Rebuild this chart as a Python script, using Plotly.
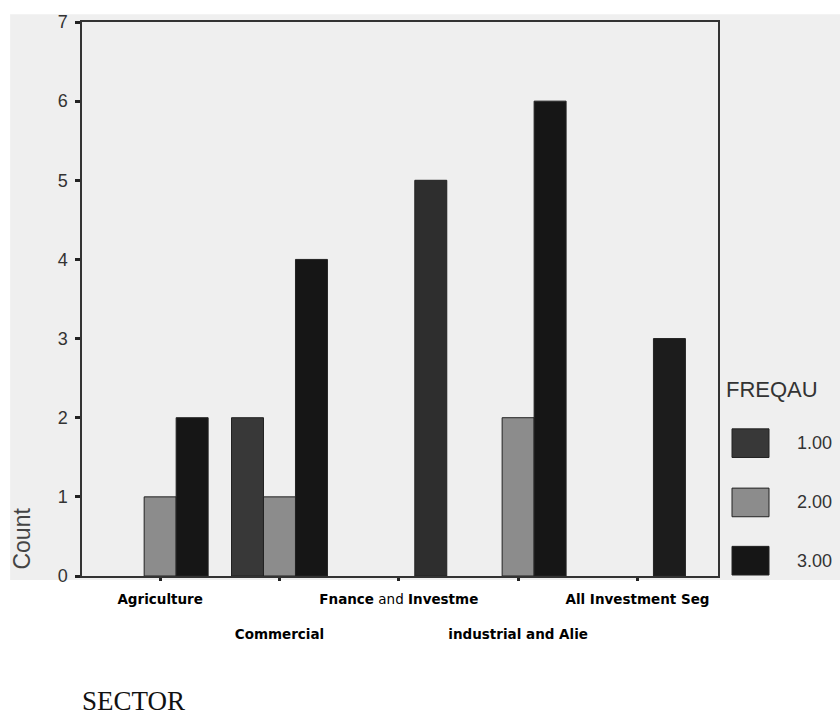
import plotly.graph_objects as go

# Sector categories (tick labels keep the original truncated SPSS text)
sectors = ["Agriculture", "Commercial", "Fnance and Investme",
           "industrial and Alie", "All Investment Seg"]
tick_labels = ["<b>Agriculture</b>",
               "<br><br><b>Commercial</b>",
               "<b>Fnance</b> and <b>Investme</b>",
               "<br><br><b>industrial and Alie</b>",
               "<b>All Investment Seg</b>"]

# Counts per FREQAU level
series_names = ["1.00", "2.00", "3.00"]
count_100 = [0, 2, 0, 0, 0]
count_200 = [1, 1, 0, 2, 0]
count_300 = [2, 4, 5, 6, 3]
y_ticks = [0, 1, 2, 3, 4, 5, 6, 7]

series_colors = ["#383838", "#8c8c8c", "#161616"]
# the finance bar prints a little lighter than the other black bars
bar_colors_300 = ["#161616", "#161616", "#2e2e2e", "#161616", "#1c1c1c"]

BG = "#efefef"
x_idx = list(range(len(sectors)))

fig = go.Figure()
for name, vals, col in zip(series_names,
                           [count_100, count_200, count_300],
                           [series_colors[0], series_colors[1], bar_colors_300]):
    # empty cells are left out so no flat outline is drawn at zero
    shown = [v if v else None for v in vals]
    fig.add_trace(go.Bar(
        x=x_idx, y=shown, name=name,
        marker=dict(color=col, line=dict(color="#222222", width=1)),
        showlegend=False,
    ))

fig.update_layout(
    width=840, height=717,
    margin=dict(l=82, r=122, t=15, b=141),
    paper_bgcolor="white",
    plot_bgcolor=BG,
    barmode="group",
    bargap=0.196,
    bargroupgap=0,
    font=dict(family="Liberation Sans, Arial, sans-serif", color="#333333"),
    xaxis=dict(
        range=[-0.655, 4.675],
        tickmode="array", tickvals=x_idx, ticktext=tick_labels,
        tickangle=0,
        ticks="outside", ticklen=3, tickwidth=3, tickcolor="#222222",
        ticklabelstandoff=7,
        tickfont=dict(size=13.5, color="#000000",
                      family="DejaVu Sans, Arial, sans-serif"),
        showline=True, linecolor="#333333", linewidth=1.5, mirror=True,
        showgrid=False, zeroline=False, fixedrange=True,
    ),
    yaxis=dict(
        range=[0, 7],
        tickmode="array", tickvals=y_ticks,
        ticks="outside", ticklen=5, tickwidth=3, tickcolor="#222222",
        ticklabelstandoff=4,
        tickfont=dict(size=18, color="#333333"),
        showline=True, linecolor="#333333", linewidth=1.5, mirror=True,
        showgrid=False, zeroline=False,
    ),
)

# light scanned page tone behind the chart area
fig.add_shape(type="rect", xref="paper", yref="paper",
              x0=-0.113, x1=1.2, y0=-0.007, y1=1.014,
              fillcolor=BG, line=dict(width=0), layer="below")

# axis titles
fig.add_annotation(text="Count", xref="paper", yref="paper",
                   x=-0.094, y=0.068, textangle=-90, showarrow=False,
                   xanchor="center", yanchor="middle",
                   font=dict(size=23, color="#444444"))
fig.add_annotation(text="SECTOR", xref="paper", yref="paper",
                   x=-0.003, y=-0.226, showarrow=False,
                   xanchor="left", yanchor="middle",
                   font=dict(size=27, color="#111111",
                             family="Liberation Serif, Times New Roman, serif"))

# legend block: title, swatches and level labels
fig.add_annotation(text="FREQAU", xref="paper", yref="paper",
                   x=1.009, y=0.337, showarrow=False,
                   xanchor="left", yanchor="middle",
                   font=dict(size=22, color="#333333"))
sw_x0, sw_x1 = (732 - 82) / 636, (769 - 82) / 636
sw_tops = [427, 487, 546]
for name, col, top in zip(series_names, series_colors, sw_tops):
    y1 = (576 - top) / 561
    y0 = (576 - top - 29) / 561
    fig.add_shape(type="rect", xref="paper", yref="paper",
                  x0=sw_x0, x1=sw_x1, y0=y0, y1=y1,
                  fillcolor=col, line=dict(color="#222222", width=1))
    fig.add_annotation(text=name, xref="paper", yref="paper",
                       x=(795 - 82) / 636, y=(y0 + y1) / 2, showarrow=False,
                       xanchor="left", yanchor="middle",
                       font=dict(size=18, color="#333333"))

fig.write_html("out.html")
